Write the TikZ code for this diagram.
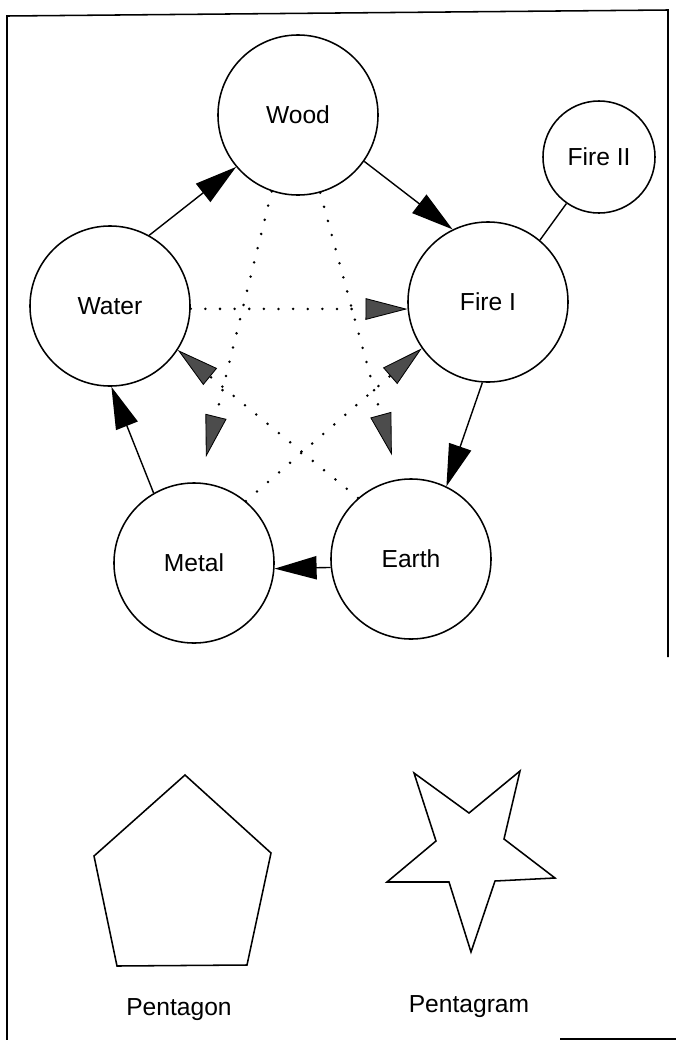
\documentclass[tikz,border=0pt]{standalone}
\usepackage{fontspec}
\setmainfont{Liberation Sans}
\usetikzlibrary{arrows.meta}
\tikzset{
elem/.style={draw,circle,line width=1.1pt,minimum size=4cm,inner sep=0pt},
feed/.style={line width=1pt,-{Triangle[length=1.05cm,width=.58cm]}},
check/.style={line width=2pt,line cap=round,dash pattern=on 0pt off 10.4pt,
  -{Triangle[length=1.05cm,width=.54cm,fill=black!70,line width=.6pt]}},
}
\begin{document}
\begin{tikzpicture}[x=.025cm,y=-.025cm,font=\fontsize{17.5}{20}\selectfont]
\useasboundingbox(0,0)rectangle(676,1040);
\draw[line width=1.1pt](668,657)--(668,10)--(7,16)--(7,1040);
\draw[line width=1.1pt](560,1039)--(676,1039);
\node[elem](wood)at(298,115){Wood};
\node[elem,minimum size=2.8cm](fire2)at(599,157){Fire II};
\node[elem](fire1)at(488,302){Fire I};
\node[elem](water)at(110,306){Water};
\node[elem](metal)at(194,563){Metal};
\node[elem](earth)at(411,559){Earth};
\draw[feed](water.61)--(wood.220);
\draw[feed](wood.325)--(fire1.116);
\draw[line width=1pt](fire2.235)--(fire1.50);
\draw[feed](fire1.266)--(earth.64);
\draw[feed](earth.186)--(metal.356);
\draw[feed](metal.120)--(water.271);
\draw[check](water.358)--(fire1.185);
\draw[check,shorten >=.65cm](wood.251)--(metal.86);
\draw[check,shorten >=.62cm](wood.286)--(earth.99);
\draw[check](earth.131)--(water.327);
\draw[check](metal.50)--(fire1.215);
\draw[line width=1.1pt](185,775)--(271,853)--(247,965)--(117,966)--(94,856)--cycle;
\node[anchor=base](pentagon)at(179,1015){Pentagon};
\draw[line width=1.1pt](414,773)--(469,813)--(520,771)--(504,839)--(555,878)--(495,881)
  --(471,952)--(449,882)--(387,882)--(436,841)--cycle;
\node[anchor=base](pentagram)at(469,1012){Pentagram};
\end{tikzpicture}
\end{document}
